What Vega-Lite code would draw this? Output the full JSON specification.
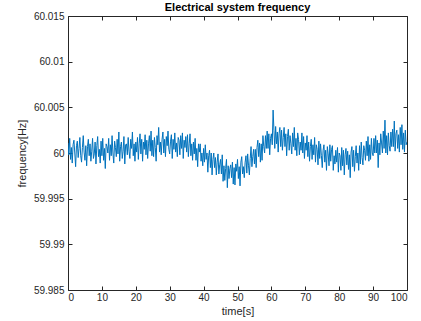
{
  "$schema": "https://vega.github.io/schema/vega-lite/v6.json",
  "width": 339,
  "height": 274,
  "autosize": "none",
  "padding": {"left": 68, "top": 16, "right": 14, "bottom": 31},
  "background": "white",
  "title": {"text": "Electrical system frequency", "font": "Liberation Sans", "fontSize": 11, "fontWeight": "bold", "color": "#000000", "offset": -2, "anchor": "middle"},
  "config": {
    "view": {"stroke": null},
    "axis": {"grid": false, "domainColor": "#262626", "domainWidth": 1, "tickColor": "#262626", "tickWidth": 1, "labelFont": "Liberation Sans", "labelFontSize": 10, "labelColor": "#262626", "titleFont": "Liberation Sans", "titleFontSize": 11, "titleFontWeight": "normal", "titleColor": "#262626"}
  },
  "data": {"values": [
{"t":0,"f":60.0011},{"t":0.25,"f":59.9998},{"t":0.5,"f":60.0016},{"t":0.75,"f":59.9993},
{"t":1,"f":60.0006},{"t":1.25,"f":59.9989},{"t":1.5,"f":60.0009},{"t":1.75,"f":60.0014},
{"t":2,"f":60},{"t":2.25,"f":59.9985},{"t":2.5,"f":60.0008},{"t":2.75,"f":60.0013},
{"t":3,"f":59.9995},{"t":3.25,"f":60.0005},{"t":3.5,"f":60.0017},{"t":3.75,"f":59.9997},
{"t":4,"f":59.999},{"t":4.25,"f":60.0006},{"t":4.5,"f":60.0019},{"t":4.75,"f":60.0001},
{"t":5,"f":59.9992},{"t":5.25,"f":60.0008},{"t":5.5,"f":59.9986},{"t":5.75,"f":60.0007},
{"t":6,"f":60.0015},{"t":6.25,"f":59.9997},{"t":6.5,"f":60.001},{"t":6.75,"f":59.9991},
{"t":7,"f":60.0002},{"t":7.25,"f":60.0016},{"t":7.5,"f":59.9994},{"t":7.75,"f":59.9999},
{"t":8,"f":60.0012},{"t":8.25,"f":59.9988},{"t":8.5,"f":60.0008},{"t":8.75,"f":60.0018},
{"t":9,"f":59.9996},{"t":9.25,"f":60.0004},{"t":9.5,"f":59.9989},{"t":9.75,"f":60.0013},
{"t":10,"f":59.9997},{"t":10.25,"f":60.0016},{"t":10.5,"f":59.9992},{"t":10.75,"f":60.0005},
{"t":11,"f":59.9983},{"t":11.25,"f":60.001},{"t":11.5,"f":60.0007},{"t":11.75,"f":60},
{"t":12,"f":60.0016},{"t":12.25,"f":59.9992},{"t":12.5,"f":60.0009},{"t":12.75,"f":59.9997},
{"t":13,"f":60.0019},{"t":13.25,"f":60},{"t":13.5,"f":59.9989},{"t":13.75,"f":60.0013},
{"t":14,"f":60.0006},{"t":14.25,"f":59.9996},{"t":14.5,"f":60.0015},{"t":14.75,"f":59.9999},
{"t":15,"f":60.0023},{"t":15.25,"f":59.9991},{"t":15.5,"f":60.0007},{"t":15.75,"f":60.0012},
{"t":16,"f":59.9994},{"t":16.25,"f":60.0002},{"t":16.5,"f":60.0018},{"t":16.75,"f":59.9988},
{"t":17,"f":60.0009},{"t":17.25,"f":60.001},{"t":17.5,"f":59.9998},{"t":17.75,"f":60.0017},
{"t":18,"f":60.0002},{"t":18.25,"f":59.9994},{"t":18.5,"f":60.0015},{"t":18.75,"f":60.0005},
{"t":19,"f":60.0023},{"t":19.25,"f":59.9997},{"t":19.5,"f":60.001},{"t":19.75,"f":59.9991},
{"t":20,"f":60.0012},{"t":20.25,"f":60.0001},{"t":20.5,"f":60.0017},{"t":20.75,"f":59.9993},
{"t":21,"f":60.001},{"t":21.25,"f":60.0021},{"t":21.5,"f":59.9999},{"t":21.75,"f":60.0015},
{"t":22,"f":59.9991},{"t":22.25,"f":60.0012},{"t":22.5,"f":60.0004},{"t":22.75,"f":60.002},
{"t":23,"f":59.9998},{"t":23.25,"f":60.0014},{"t":23.5,"f":59.9994},{"t":23.75,"f":60.001},
{"t":24,"f":60.0019},{"t":24.25,"f":60.0002},{"t":24.5,"f":60.0024},{"t":24.75,"f":59.9997},
{"t":25,"f":60.0014},{"t":25.25,"f":59.9996},{"t":25.5,"f":60.0017},{"t":25.75,"f":60.0006},
{"t":26,"f":59.9991},{"t":26.25,"f":60.0019},{"t":26.5,"f":60.0009},{"t":26.75,"f":60.0028},
{"t":27,"f":60.0001},{"t":27.25,"f":60.0012},{"t":27.5,"f":59.9998},{"t":27.75,"f":60.0015},
{"t":28,"f":60.0023},{"t":28.25,"f":60},{"t":28.5,"f":60.0015},{"t":28.75,"f":59.9996},
{"t":29,"f":60.0018},{"t":29.25,"f":60.0008},{"t":29.5,"f":60.0024},{"t":29.75,"f":60.0004},
{"t":30,"f":59.9999},{"t":30.25,"f":60.0013},{"t":30.5,"f":60.002},{"t":30.75,"f":59.9994},
{"t":31,"f":60.0015},{"t":31.25,"f":60.0004},{"t":31.5,"f":60.0022},{"t":31.75,"f":60.0001},
{"t":32,"f":60.0011},{"t":32.25,"f":59.9996},{"t":32.5,"f":60.0017},{"t":32.75,"f":60.0014},
{"t":33,"f":59.9998},{"t":33.25,"f":60.0019},{"t":33.5,"f":60.0005},{"t":33.75,"f":60.0022},
{"t":34,"f":59.9994},{"t":34.25,"f":60.0014},{"t":34.5,"f":60.0006},{"t":34.75,"f":60.0018},
{"t":35,"f":60.0001},{"t":35.25,"f":60.002},{"t":35.5,"f":59.9996},{"t":35.75,"f":60.001},
{"t":36,"f":60.0021},{"t":36.25,"f":59.9997},{"t":36.5,"f":60.001},{"t":36.75,"f":59.9992},
{"t":37,"f":60.0012},{"t":37.25,"f":59.9999},{"t":37.5,"f":60.0016},{"t":37.75,"f":59.9992},
{"t":38,"f":60.0005},{"t":38.25,"f":59.9985},{"t":38.5,"f":60.001},{"t":38.75,"f":60.0001},
{"t":39,"f":60.001},{"t":39.25,"f":59.9991},{"t":39.5,"f":60},{"t":39.75,"f":59.9986},
{"t":40,"f":60.0005},{"t":40.25,"f":59.999},{"t":40.5,"f":60.0009},{"t":40.75,"f":59.9993},
{"t":41,"f":60},{"t":41.25,"f":59.9979},{"t":41.5,"f":59.9997},{"t":41.75,"f":60.0003},
{"t":42,"f":59.9984},{"t":42.25,"f":60},{"t":42.5,"f":59.9976},{"t":42.75,"f":59.9993},
{"t":43,"f":60},{"t":43.25,"f":59.9984},{"t":43.5,"f":59.9995},{"t":43.75,"f":59.9976},
{"t":44,"f":59.999},{"t":44.25,"f":59.9999},{"t":44.5,"f":59.9977},{"t":44.75,"f":59.9987},
{"t":45,"f":59.9993},{"t":45.25,"f":59.9977},{"t":45.5,"f":59.9998},{"t":45.75,"f":59.9969},
{"t":46,"f":59.9986},{"t":46.25,"f":59.997},{"t":46.5,"f":59.9983},{"t":46.75,"f":59.9993},
{"t":47,"f":59.9962},{"t":47.25,"f":59.9986},{"t":47.5,"f":59.9972},{"t":47.75,"f":59.9983},
{"t":48,"f":59.9987},{"t":48.25,"f":59.9973},{"t":48.5,"f":59.999},{"t":48.75,"f":59.9966},
{"t":49,"f":59.9984},{"t":49.25,"f":59.9965},{"t":49.5,"f":59.9988},{"t":49.75,"f":59.998},
{"t":50,"f":59.9993},{"t":50.25,"f":59.9972},{"t":50.5,"f":59.9985},{"t":50.75,"f":59.9964},
{"t":51,"f":59.999},{"t":51.25,"f":59.9996},{"t":51.5,"f":59.9977},{"t":51.75,"f":59.9985},
{"t":52,"f":59.9973},{"t":52.25,"f":59.999},{"t":52.5,"f":59.9997},{"t":52.75,"f":59.9978},
{"t":53,"f":59.9999},{"t":53.25,"f":59.9986},{"t":53.5,"f":59.9976},{"t":53.75,"f":59.9994},
{"t":54,"f":60.0007},{"t":54.25,"f":59.9985},{"t":54.5,"f":59.9996},{"t":54.75,"f":60.0004},
{"t":55,"f":59.9988},{"t":55.25,"f":60.0004},{"t":55.5,"f":59.9984},{"t":55.75,"f":60.0006},
{"t":56,"f":60.0014},{"t":56.25,"f":59.9996},{"t":56.5,"f":60.0011},{"t":56.75,"f":59.999},
{"t":57,"f":60.001},{"t":57.25,"f":59.9992},{"t":57.5,"f":60.0019},{"t":57.75,"f":60.0007},
{"t":58,"f":60},{"t":58.25,"f":60.0019},{"t":58.5,"f":60.0005},{"t":58.75,"f":60.0024},
{"t":59,"f":60.0005},{"t":59.25,"f":60.0021},{"t":59.5,"f":59.9998},{"t":59.75,"f":60.0016},
{"t":60,"f":60.0021},{"t":60.25,"f":60.0009},{"t":60.5,"f":60.0047},{"t":60.75,"f":60.0025},
{"t":61,"f":60.0005},{"t":61.25,"f":60.0029},{"t":61.5,"f":60.001},{"t":61.75,"f":60.0023},
{"t":62,"f":60.0001},{"t":62.25,"f":60.0021},{"t":62.5,"f":60.0028},{"t":62.75,"f":60.0007},
{"t":63,"f":60.0025},{"t":63.25,"f":60.0003},{"t":63.5,"f":60.0017},{"t":63.75,"f":60.0028},
{"t":64,"f":60.0007},{"t":64.25,"f":60.0021},{"t":64.5,"f":59.9997},{"t":64.75,"f":60.0018},
{"t":65,"f":60.0026},{"t":65.25,"f":60.0003},{"t":65.5,"f":60.0019},{"t":65.75,"f":60.001},
{"t":66,"f":59.9999},{"t":66.25,"f":60.0022},{"t":66.5,"f":60.0007},{"t":66.75,"f":60.0028},
{"t":67,"f":60.0003},{"t":67.25,"f":60.0016},{"t":67.5,"f":59.9997},{"t":67.75,"f":60.0022},
{"t":68,"f":60.0015},{"t":68.25,"f":59.9998},{"t":68.5,"f":60.0012},{"t":68.75,"f":60.0003},
{"t":69,"f":60.0022},{"t":69.25,"f":60},{"t":69.5,"f":60.0018},{"t":69.75,"f":59.9994},
{"t":70,"f":60.0011},{"t":70.25,"f":60.0003},{"t":70.5,"f":60.0019},{"t":70.75,"f":59.9996},
{"t":71,"f":60.0012},{"t":71.25,"f":59.9991},{"t":71.5,"f":60.0007},{"t":71.75,"f":60.0015},
{"t":72,"f":59.9993},{"t":72.25,"f":60.0009},{"t":72.5,"f":59.9998},{"t":72.75,"f":60.0017},
{"t":73,"f":59.999},{"t":73.25,"f":60.0009},{"t":73.5,"f":60.0004},{"t":73.75,"f":59.9987},
{"t":74,"f":60.0013},{"t":74.25,"f":59.9994},{"t":74.5,"f":60.001},{"t":74.75,"f":59.9997},
{"t":75,"f":59.9984},{"t":75.25,"f":60.0003},{"t":75.5,"f":60.0009},{"t":75.75,"f":59.999},
{"t":76,"f":60.0003},{"t":76.25,"f":59.9981},{"t":76.5,"f":60.0007},{"t":76.75,"f":59.9999},
{"t":77,"f":59.9986},{"t":77.25,"f":60.0009},{"t":77.5,"f":59.9991},{"t":77.75,"f":60.0004},
{"t":78,"f":60.0008},{"t":78.25,"f":59.9981},{"t":78.5,"f":59.9997},{"t":78.75,"f":59.9988},
{"t":79,"f":60.0003},{"t":79.25,"f":59.999},{"t":79.5,"f":60.0006},{"t":79.75,"f":59.9979},
{"t":80,"f":60},{"t":80.25,"f":59.9997},{"t":80.5,"f":59.9981},{"t":80.75,"f":60.0006},
{"t":81,"f":59.9986},{"t":81.25,"f":60.0003},{"t":81.5,"f":59.9976},{"t":81.75,"f":59.9998},
{"t":82,"f":60.0005},{"t":82.25,"f":59.9987},{"t":82.5,"f":60.0002},{"t":82.75,"f":59.9982},
{"t":83,"f":59.9998},{"t":83.25,"f":59.9973},{"t":83.5,"f":60.0001},{"t":83.75,"f":60.0007},
{"t":84,"f":59.9985},{"t":84.25,"f":60.0003},{"t":84.5,"f":59.998},{"t":84.75,"f":59.9996},
{"t":85,"f":60.0008},{"t":85.25,"f":59.9989},{"t":85.5,"f":60},{"t":85.75,"f":59.9981},
{"t":86,"f":60.0008},{"t":86.25,"f":59.9988},{"t":86.5,"f":60.0012},{"t":86.75,"f":59.9995},
{"t":87,"f":59.9987},{"t":87.25,"f":60.0008},{"t":87.5,"f":60.0003},{"t":87.75,"f":59.9992},
{"t":88,"f":60.0013},{"t":88.25,"f":59.9997},{"t":88.5,"f":60.0018},{"t":88.75,"f":59.9991},
{"t":89,"f":60.0009},{"t":89.25,"f":59.9993},{"t":89.5,"f":60.0016},{"t":89.75,"f":60},
{"t":90,"f":59.9997},{"t":90.25,"f":60.0016},{"t":90.5,"f":60},{"t":90.75,"f":60.0019},
{"t":91,"f":60},{"t":91.25,"f":60.0014},{"t":91.5,"f":59.9984},{"t":91.75,"f":60.0011},
{"t":92,"f":59.9998},{"t":92.25,"f":60.0021},{"t":92.5,"f":60.0011},{"t":92.75,"f":60},
{"t":93,"f":60.0024},{"t":93.25,"f":60.0005},{"t":93.5,"f":60.0036},{"t":93.75,"f":60},
{"t":94,"f":60.0019},{"t":94.25,"f":59.9998},{"t":94.5,"f":60.0022},{"t":94.75,"f":60.0008},
{"t":95,"f":60.0002},{"t":95.25,"f":60.0023},{"t":95.5,"f":60.0007},{"t":95.75,"f":60.0026},
{"t":96,"f":60.0007},{"t":96.25,"f":60.0035},{"t":96.5,"f":60.0002},{"t":96.75,"f":60.0021},
{"t":97,"f":60.0025},{"t":97.25,"f":60.0005},{"t":97.5,"f":60.002},{"t":97.75,"f":60.0001},
{"t":98,"f":60.0028},{"t":98.25,"f":60.0009},{"t":98.5,"f":60.0031},{"t":98.75,"f":60.0004},
{"t":99,"f":60.0022},{"t":99.25,"f":60.0001},{"t":99.5,"f":60.0025},{"t":99.75,"f":60.0009},
{"t":100,"f":60.0012}
  ]},
  "layer": [
    {
      "mark": {"type": "line", "color": "#0072BD", "strokeWidth": 1, "clip": true},
      "encoding": {
        "x": {"field": "t", "type": "quantitative", "scale": {"domain": [0, 100], "nice": false}, "axis": {"orient": "bottom", "values": [0,10,20,30,40,50,60,70,80,90,100], "tickSize": -4, "labelPadding": 6, "title": "time[s]", "titlePadding": 3}},
        "y": {"field": "f", "type": "quantitative", "scale": {"domain": [59.985, 60.015], "nice": false, "zero": false}, "axis": {"orient": "left", "values": [59.985, 59.99, 59.995, 60, 60.005, 60.01, 60.015], "format": "~g", "tickSize": -4, "labelPadding": 8, "title": "frequency[Hz]", "titlePadding": 6}}
      }
    },
    {
      "mark": {"type": "line", "opacity": 0},
      "encoding": {
        "x": {"field": "t", "type": "quantitative", "axis": {"orient": "top", "values": [0,10,20,30,40,50,60,70,80,90,100], "tickSize": -4, "labels": false, "title": null}},
        "y": {"field": "f", "type": "quantitative", "axis": {"orient": "right", "values": [59.985, 59.99, 59.995, 60, 60.005, 60.01, 60.015], "tickSize": -4, "labels": false, "title": null}}
      }
    }
  ],
  "resolve": {"axis": {"x": "independent", "y": "independent"}}
}
